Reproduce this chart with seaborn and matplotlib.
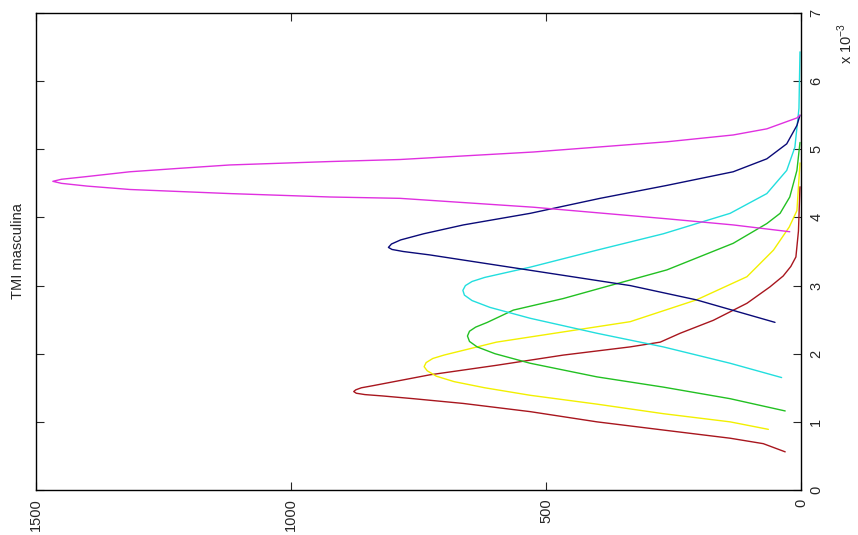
import matplotlib
matplotlib.use("Agg")
import matplotlib.pyplot as plt
import seaborn as sns
import numpy as np

# density (x, drawn right-to-left) vs TMI value (y, units of 1e-3)
red_d = [31, 74, 139, 270, 400, 531, 662, 760, 820, 855, 872, 877, 873, 862, 840, 728, 597, 466, 335, 276, 237, 172, 106, 61, 35, 20, 10, 5, 2]
red_v = [0.56, 0.68, 0.76, 0.88, 1.0, 1.15, 1.27, 1.34, 1.38, 1.40, 1.42, 1.445, 1.47, 1.50, 1.53, 1.69, 1.83, 1.98, 2.10, 2.17, 2.30, 2.49, 2.74, 2.98, 3.14, 3.28, 3.42, 3.8, 4.45]

yellow_d = [64, 139, 270, 400, 531, 620, 680, 715, 733, 739, 735, 722, 700, 597, 466, 335, 205, 106, 54, 23, 8, 2]
yellow_v = [0.89, 1.0, 1.12, 1.26, 1.39, 1.50, 1.59, 1.67, 1.75, 1.81, 1.87, 1.93, 1.98, 2.17, 2.32, 2.47, 2.79, 3.13, 3.52, 3.86, 4.1, 4.8]

green_d = [31, 139, 270, 400, 531, 600, 635, 650, 654, 650, 638, 615, 564, 466, 394, 263, 133, 67, 41, 22, 8, 2]
green_v = [1.16, 1.34, 1.51, 1.66, 1.86, 2.00, 2.10, 2.18, 2.26, 2.33, 2.39, 2.46, 2.64, 2.81, 2.96, 3.23, 3.62, 3.91, 4.06, 4.30, 4.69, 5.1]

cyan_d = [38, 139, 270, 400, 531, 610, 645, 660, 663, 658, 645, 620, 531, 400, 270, 139, 67, 28, 12, 4, 2]
cyan_v = [1.65, 1.86, 2.10, 2.30, 2.52, 2.68, 2.78, 2.86, 2.93, 3.00, 3.06, 3.12, 3.27, 3.52, 3.76, 4.06, 4.35, 4.69, 5.03, 5.6, 6.43]

navy_d = [51, 205, 335, 466, 597, 728, 780, 802, 809, 803, 785, 740, 662, 531, 394, 263, 133, 67, 28, 8, 2]
navy_v = [2.46, 2.79, 3.0, 3.15, 3.30, 3.45, 3.50, 3.53, 3.56, 3.61, 3.67, 3.76, 3.89, 4.06, 4.28, 4.47, 4.67, 4.86, 5.08, 5.35, 5.5]

magenta_d = [22, 133, 263, 525, 786, 924, 1120, 1316, 1400, 1450, 1467, 1450, 1400, 1316, 1220, 1120, 924, 786, 525, 263, 133, 67, 8, 2]
magenta_v = [3.79, 3.89, 3.98, 4.15, 4.28, 4.30, 4.35, 4.41, 4.46, 4.50, 4.53, 4.56, 4.60, 4.67, 4.72, 4.77, 4.82, 4.85, 4.96, 5.11, 5.21, 5.30, 5.46, 5.5]

curves = [
    (red_d, red_v, '#a8161e'),
    (yellow_d, yellow_v, '#f2f000'),
    (green_d, green_v, '#22c022'),
    (cyan_d, cyan_v, '#22dede'),
    (navy_d, navy_v, '#0a0a78'),
    (magenta_d, magenta_v, '#e030e0'),
]

y_ticks = [0, 1, 2, 3, 4, 5, 6, 7]
x_ticks = [0, 500, 1000, 1500]

sns.set_style('white')
plt.rcParams['font.family'] = ['Liberation Sans', 'DejaVu Sans']
plt.rcParams['mathtext.fontset'] = 'custom'
plt.rcParams['mathtext.rm'] = 'Liberation Sans'

fig = plt.figure(figsize=(8.58, 5.35), dpi=100)
ax = fig.add_axes([36 / 858, 45 / 535, 765 / 858, 477 / 535])

for d, v, c in curves:
    sns.lineplot(x=d, y=np.array(v) * 1e-3, sort=False, estimator=None,
                 color=c, linewidth=1.0, ax=ax)

ax.set_xlim(1500, 0)
ax.set_ylim(0, 7e-3)
ax.set_xticks(x_ticks)
ax.set_xticklabels([str(t) for t in x_ticks], rotation=90, fontsize=10.5)
ax.set_yticks([t * 1e-3 for t in y_ticks])
ax.set_yticklabels([str(t) for t in y_ticks], rotation=90, fontsize=10.5, va='center')
ax.yaxis.tick_right()
ax.tick_params(direction='in', length=6, width=0.8, top=True, bottom=True,
               left=True, right=True, labelleft=False, labelright=True, pad=6)
for s in ax.spines.values():
    s.set_color('black')
    s.set_linewidth(1.0)

fig.text(18 / 858, (535 - 251) / 535, 'TMI masculina', rotation=90,
         ha='center', va='center', fontsize=10.5)
fig.text(845 / 858, (535 - 64) / 535, r'x 10$^{-3}$', rotation=90,
         ha='center', va='bottom', fontsize=10.5)

fig.savefig('out.png', dpi=100)
